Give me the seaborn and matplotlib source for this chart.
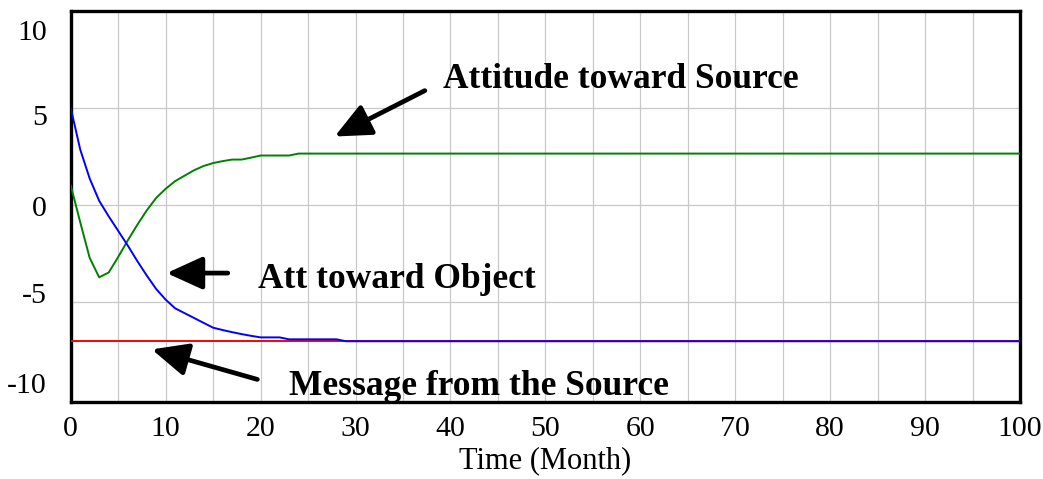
import matplotlib
matplotlib.use("Agg")
import matplotlib.pyplot as plt
import seaborn as sns
import pandas as pd

# ---- data ----
months = [0, 1, 2, 3, 4, 5, 6, 7, 8, 9, 10, 11, 12, 13, 14, 15, 16, 17, 18, 19,
          20, 21, 22, 23, 24, 25, 26, 27, 28, 29, 30, 100]
att_object = [5.0, 2.85, 1.35, 0.2, -0.6, -1.35, -2.1, -2.9, -3.65, -4.35, -4.9,
              -5.35, -5.6, -5.85, -6.1, -6.35, -6.47, -6.58, -6.68, -6.77, -6.85,
              -6.85, -6.85, -6.95, -6.95, -6.95, -6.95, -6.95, -6.95, -7.05, -7.05, -7.05]
att_source = [1.0, -0.9, -2.75, -3.75, -3.5, -2.7, -1.85, -1.05, -0.3, 0.35, 0.82,
              1.22, 1.5, 1.78, 2.0, 2.15, 2.25, 2.33, 2.33, 2.43, 2.54, 2.54, 2.54,
              2.54, 2.64, 2.64, 2.64, 2.64, 2.64, 2.64, 2.64, 2.64]
message = [-7.05] * len(months)

x_ticks = [0, 10, 20, 30, 40, 50, 60, 70, 80, 90, 100]
y_tick_labels = ["10", "5", "0", "-5", "-10"]

labels = ["Attitude toward Source", "Att toward Object", "Message from the Source"]

sns.set_style("white")
plt.rcParams['font.family'] = ['Liberation Serif', 'DejaVu Serif']
plt.rcParams['text.color'] = 'black'
plt.rcParams['axes.labelcolor'] = 'black'
plt.rcParams['xtick.color'] = 'black'
plt.rcParams['ytick.color'] = 'black'

fig = plt.figure(figsize=(10.43, 4.79), dpi=100)
ax = fig.add_axes([0.0678, 0.1614, 0.9102, 0.8156])

df = pd.DataFrame({"Time": months, "obj": att_object, "src": att_source, "msg": message})
sns.lineplot(data=df, x="Time", y="msg", ax=ax, color="#ff0000", lw=1.4, zorder=3)
sns.lineplot(data=df, x="Time", y="src", ax=ax, color="#008000", lw=1.4, zorder=4)
sns.lineplot(data=df, x="Time", y="obj", ax=ax, color="#0000ff", lw=1.4, zorder=5)

ax.set_xlim(0, 100)
ax.set_ylim(-10.17, 10.0)

# x ticks / grid
ax.set_xticks(x_ticks)
ax.set_xticks([v + 5 for v in x_ticks[:-1]], minor=True)
ax.set_xticklabels([str(v) for v in x_ticks])
# y: labels placed like the reference; grid lines at -5, 0, 5
ax.set_yticks([9.04, 4.65, -0.09, -4.55, -9.19])
ax.set_yticklabels(y_tick_labels)
ax.set_yticks([-5, 0, 5], minor=True)

ax.grid(False)
ax.grid(True, which="both", axis="x", color="#c8c8c8", lw=0.9)
ax.grid(True, which="minor", axis="y", color="#c8c8c8", lw=0.9)
ax.set_axisbelow(True)

ax.tick_params(axis="both", which="both", length=0, labelsize=21.5, colors="black")
ax.tick_params(axis="x", pad=10)
ax.tick_params(axis="y", pad=17)

for s in ax.spines.values():
    s.set_visible(True)
    s.set_color("black")
    s.set_linewidth(2.4)

ax.set_xlabel("Time (Month)", fontsize=22, labelpad=3)
ax.set_ylabel("")

arrow = dict(arrowstyle="-|>,head_length=2.2,head_width=1.0", color="black",
             lw=3.4, shrinkA=0, shrinkB=0)
bold = dict(fontsize=25.5, fontweight="bold", va="baseline", ha="left", color="black")

ax.text(39.2, 6.0, labels[0], **bold)
ax.annotate("", xy=(27.8, 3.52), xytext=(37.3, 5.89), arrowprops=arrow)

ax.text(19.7, -4.28, labels[1], **bold)
ax.annotate("", xy=(10.1, -3.53), xytext=(16.54, -3.53), arrowprops=arrow)

ax.text(22.97, -9.83, labels[2], **bold)
ax.annotate("", xy=(8.54, -7.47), xytext=(19.66, -9.02), arrowprops=arrow)

fig.savefig("out.png", dpi=100)
